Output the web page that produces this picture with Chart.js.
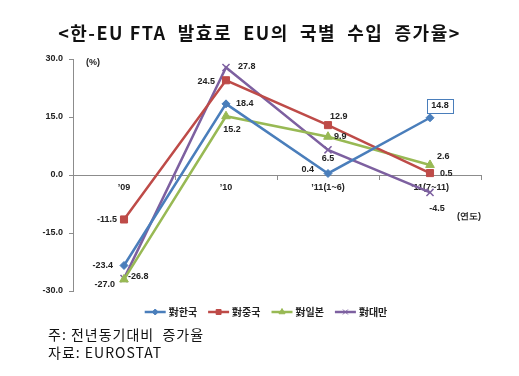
<!DOCTYPE html>
<html>
<head>
<meta charset="utf-8">
<script src="https://cdn.jsdelivr.net/npm/chart.js@4.4.0/dist/chart.umd.min.js"></script>
<style>
  html, body { margin: 0; padding: 0; background: #fff; }
  #wrap { position: relative; width: 519px; height: 376px; overflow: hidden; }
  #c { position: absolute; left: 0; top: 0; }
  #title { position: absolute; left: 0; width: 519px; top: 20px; text-align: center;
    font-family: "Noto Sans CJK KR", sans-serif; font-weight: 700; font-size: 18px; line-height: 24px;
    color: #111; white-space: pre; letter-spacing: 1.5px; }
  .note { position: absolute; left: 48px; font-family: "Noto Sans CJK KR", sans-serif; font-size: 14px;
    line-height: 17px; color: #111; white-space: pre; letter-spacing: 1px; }
</style>
</head>
<body>
<div id="wrap">
  <canvas id="c" width="519" height="376"></canvas>
  <div id="title">&lt;한-EU FTA  발효로  EU의  국별  수입  증가율&gt;</div>
  <div class="note" style="top:326px">주: 전년동기대비  증가율</div>
  <div class="note" style="top:344px">자료: EUROSTAT</div>
</div>
<script>
// ---- data ----
const categories = ['\u201909', '\u201910', '\u201911(1~6)', '\u201911(7~11)'];
const seriesNames = ['對한국', '對중국', '對일본', '對대만'];
const korea  = [-23.4, 18.4, 0.4, 14.8];
const china  = [-11.5, 24.5, 12.9, 0.5];
const japan  = [-27.0, 15.2, 9.9, 2.6];
const taiwan = [-26.8, 27.8, 6.5, -4.5];
const yTicks = [-30, -15, 0, 15, 30];

// ---- styles ----
const colors = ['#4A7EBB', '#BE4B48', '#98B954', '#7D60A0'];
const pointStyles = ['rectRot', 'rect', 'triangle', 'crossRot'];
const pointRadii = [4, 5, 5, 5];
// label offsets per point: [dx, dy, align]
const labelOffsets = [
  [[-11, 0, 'right'], [10, 0, 'left'], [-14, -4, 'right'], [10, -12, 'center']],
  [[-7, 0, 'right'], [-11, 1, 'right'], [2, -9, 'left'], [10, 0, 'left']],
  [[-9, 5, 'right'], [6, 13, 'center'], [6, 0, 'left'], [7, -8, 'left']],
  [[4, -2, 'left'], [12, -1, 'left'], [0, 9, 'center'], [7, 16, 'center']]
];
const boxedLabel = [0, 3];
const labelFont = 'bold 9px "Liberation Sans", Arial, sans-serif';

const seriesData = [korea, china, japan, taiwan];

const datasets = seriesData.map((d, i) => ({
  label: seriesNames[i],
  data: d,
  borderColor: colors[i],
  backgroundColor: colors[i],
  pointBackgroundColor: colors[i],
  pointBorderColor: colors[i],
  pointStyle: pointStyles[i],
  pointRadius: pointRadii[i],
  pointBorderWidth: i === 3 ? 1.5 : 1,
  borderWidth: 2.5,
  tension: 0,
  fill: false
}));

const extrasPlugin = {
  id: 'extras',
  afterDatasetsDraw(chart) {
    const ctx = chart.ctx;
    ctx.save();
    ctx.font = labelFont;
    ctx.fillStyle = '#222';
    ctx.textBaseline = 'middle';
    chart.data.datasets.forEach((ds, di) => {
      const meta = chart.getDatasetMeta(di);
      meta.data.forEach((pt, pi) => {
        const v = ds.data[pi];
        const [dx, dy, align] = labelOffsets[di][pi];
        const txt = v.toFixed(1);
        ctx.textAlign = align;
        const x = pt.x + dx, y = pt.y + dy;
        ctx.fillText(txt, x, y);
        if (boxedLabel[0] === di && boxedLabel[1] === pi) {
          const w = ctx.measureText(txt).width;
          ctx.strokeStyle = colors[di];
          ctx.lineWidth = 1;
          ctx.strokeRect(Math.round(x - w / 2 - 4) + 0.5, Math.round(y - 7) + 0.5, Math.round(w + 8), 14);
        }
      });
    });
    // unit labels
    const a = chart.chartArea;
    ctx.textAlign = 'left';
    ctx.fillText('(%)', a.left + 13, a.top + 4);
    ctx.fillText('(연도)', a.right - 24, chart.scales.y.getPixelForValue(0) + 42);

    // legend
    ctx.font = 'bold 10px "Noto Sans CJK KR", sans-serif';
    const lineW = 21, gap = 3, itemGap = 11;
    const widths = chart.data.datasets.map(ds => lineW + gap + ctx.measureText(ds.label).width);
    const total = widths.reduce((s, w) => s + w, 0) + itemGap * (widths.length - 1);
    let x = 266 - total / 2;
    const ly = 312;
    chart.data.datasets.forEach((ds, di) => {
      ctx.strokeStyle = ds.borderColor;
      ctx.lineWidth = 2.5;
      ctx.beginPath();
      ctx.moveTo(x, ly);
      ctx.lineTo(x + lineW, ly);
      ctx.stroke();
      ctx.fillStyle = ds.borderColor;
      ctx.strokeStyle = ds.borderColor;
      ctx.lineWidth = 1;
      Chart.helpers.drawPoint(ctx, {
        pointStyle: ds.pointStyle, radius: di === 0 ? 3 : 3.5, borderWidth: 1, rotation: 0
      }, x + lineW / 2, ly);
      ctx.fillStyle = '#222';
      ctx.textAlign = 'left';
      ctx.fillText(ds.label, x + lineW + gap, ly);
      x += widths[di] + itemGap;
    });
    ctx.restore();
  }
};

new Chart(document.getElementById('c'), {
  type: 'line',
  data: { labels: categories, datasets },
  options: {
    responsive: false,
    animation: false,
    layout: { padding: { left: 23, right: 38, top: 59, bottom: 85 } },
    plugins: { legend: { display: false }, tooltip: { enabled: false } },
    scales: {
      x: {
        type: 'category',
        position: { y: 0 },
        offset: true,
        grid: { offset: true, drawOnChartArea: false, tickLength: 4, color: '#8c8c8c' },
        border: { color: '#8c8c8c', width: 1 },
        ticks: { padding: 3, color: '#222', font: { family: '"Liberation Sans", Arial, sans-serif', size: 9, weight: 'bold' }, maxRotation: 0 },
        afterFit(s) { s.height = 0; }
      },
      y: {
        min: -30, max: 30,
        afterBuildTicks(s) { s.ticks = yTicks.map(v => ({ value: v })); },
        grid: { drawOnChartArea: false, tickLength: 4, color: '#8c8c8c' },
        border: { color: '#8c8c8c', width: 1 },
        ticks: { padding: 6, color: '#222', font: { family: '"Liberation Sans", Arial, sans-serif', size: 9, weight: 'bold' },
          callback: v => Number(v).toFixed(1) },
        afterFit(s) { s.width = 50; }
      }
    }
  },
  plugins: [extrasPlugin]
});
</script>
</body>
</html>
